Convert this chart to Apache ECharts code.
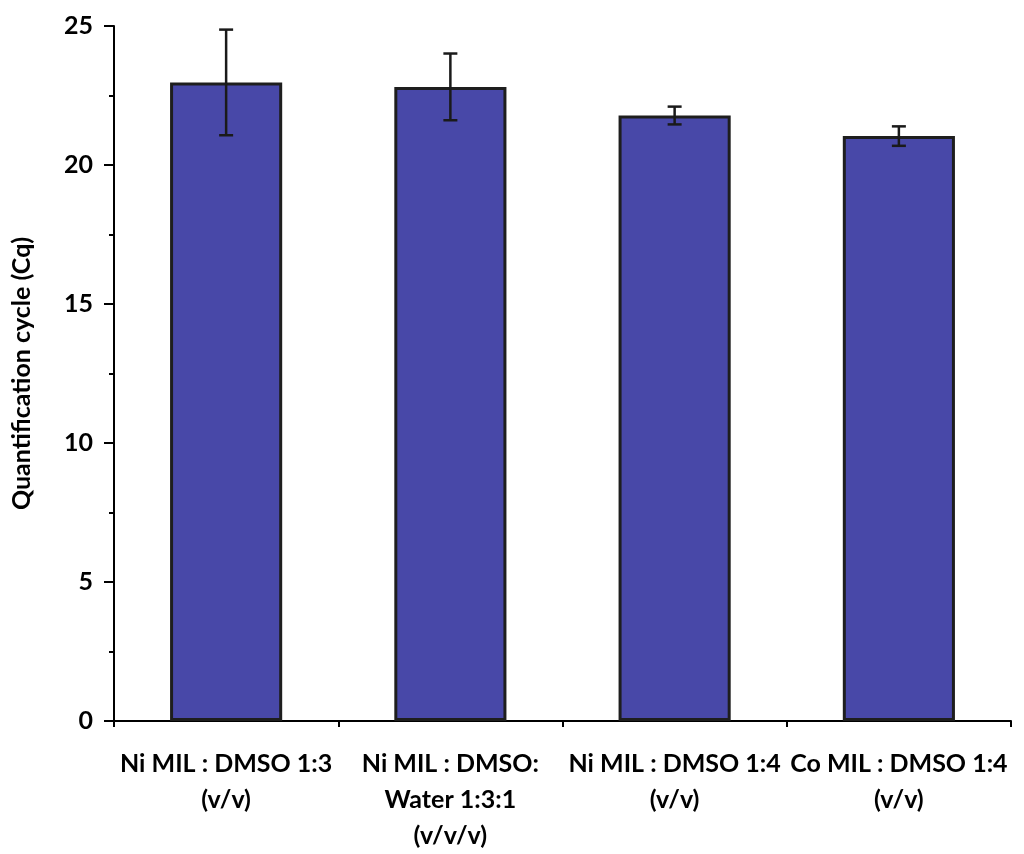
<!DOCTYPE html>
<html><head><meta charset="utf-8">
<script src="https://cdn.jsdelivr.net/npm/echarts@6/dist/echarts.min.js"></script>
<style>html,body{margin:0;padding:0;background:#fff}#c{width:1024px;height:854px}</style>
</head><body><div id="c"></div>
<script>
const categories = ["Ni MIL : DMSO 1:3\n(v/v)", "Ni MIL : DMSO:\nWater 1:3:1\n(v/v/v)", "Ni MIL : DMSO 1:4\n(v/v)", "Co MIL : DMSO 1:4\n(v/v)"];
const cqMeans = [22.97, 22.81, 21.78, 21.04];
const cqErrors = [1.9, 1.2, 0.32, 0.35];
const yTicks = [0, 5, 10, 15, 20, 25];

const FONT = "Lato, 'Liberation Sans', sans-serif";
const chart = echarts.init(document.getElementById('c'));
chart.setOption({
  animation: false,
  grid: {left: 114, right: 13, top: 26, bottom: 130},
  xAxis: [{
    type: 'category', data: categories,
    axisLine: {lineStyle: {color: '#000', width: 2}},
    axisTick: {alignWithLabel: true, length: 13, lineStyle: {color: '#000', width: 2}},
    axisLabel: {interval: 0, margin: 25, color: '#000', fontFamily: FONT, fontWeight: 'bold', fontSize: 25, lineHeight: 36}
  }, {
    type: 'category', data: categories, position: 'bottom',
    axisLine: {show: false},
    axisTick: {show: true, length: 6, lineStyle: {color: '#000', width: 2}},
    axisLabel: {show: false}
  }],
  yAxis: {
    type: 'value', min: 0, max: 25, interval: 5,
    name: 'Quantification cycle (Cq)', nameLocation: 'middle', nameGap: 80,
    nameTextStyle: {color: '#000', fontFamily: FONT, fontWeight: 'bold', fontSize: 25},
    axisLine: {show: true, lineStyle: {color: '#000', width: 2}},
    axisTick: {show: true, length: 10, lineStyle: {color: '#000', width: 2}},
    minorTick: {show: true, splitNumber: 2, length: 5, lineStyle: {color: '#000', width: 2}},
    splitLine: {show: false},
    axisLabel: {margin: 21, color: '#000', fontFamily: FONT, fontWeight: 'bold', fontSize: 25,
      formatter: v => yTicks.includes(v) ? String(v) : ''}
  },
  series: [{
    type: 'bar', data: cqMeans, barWidth: '50%',
    itemStyle: {color: '#4848a8', borderColor: '#1e1e1e', borderWidth: 3}
  }, {
    type: 'custom',
    data: cqMeans.map((m, i) => [i, m - cqErrors[i], m + cqErrors[i]]),
    renderItem: function (params, api) {
      const lo = api.coord([api.value(0), api.value(1)]);
      const hi = api.coord([api.value(0), api.value(2)]);
      const hw = 7;
      const st = {stroke: '#1a1a1a', lineWidth: 2.5};
      return {type: 'group', children: [
        {type: 'line', shape: {x1: hi[0], y1: hi[1], x2: lo[0], y2: lo[1]}, style: st},
        {type: 'line', shape: {x1: hi[0] - hw, y1: hi[1], x2: hi[0] + hw, y2: hi[1]}, style: st},
        {type: 'line', shape: {x1: lo[0] - hw, y1: lo[1], x2: lo[0] + hw, y2: lo[1]}, style: st}
      ]};
    },
    z: 10
  }]
});
</script></body></html>
